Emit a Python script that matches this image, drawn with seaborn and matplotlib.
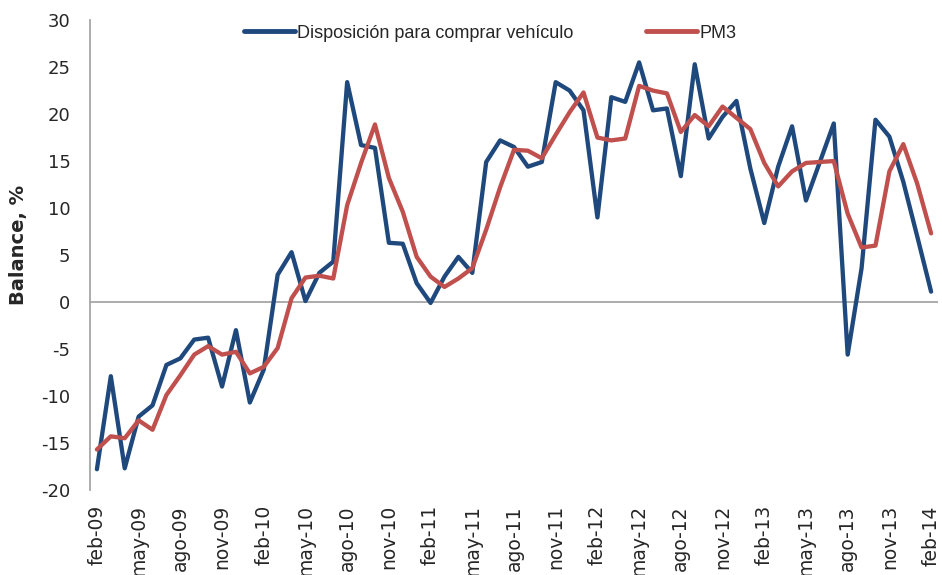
import pandas as pd
import seaborn as sns
import matplotlib.pyplot as plt

# series values (feb-09 .. feb-14, monthly)
meses = ["feb", "mar", "abr", "may", "jun", "jul", "ago", "sep", "oct", "nov", "dic", "ene"]
disposicion = [-17.8, -7.9, -17.7, -12.2, -11.0, -6.7, -6.0, -4.0, -3.8, -9.0, -3.0, -10.7,
               -7.2, 2.9, 5.3, 0.1, 3.1, 4.3, 23.4, 16.7, 16.4, 6.3, 6.2, 2.0,
               -0.1, 2.7, 4.8, 3.1, 14.9, 17.2, 16.5, 14.4, 14.9, 23.4, 22.5, 20.4,
               9.0, 21.8, 21.3, 25.5, 20.4, 20.6, 13.4, 25.3, 17.4, 19.7, 21.4, 14.2,
               8.4, 14.4, 18.7, 10.8, 14.9, 19.0, -5.6, 3.6, 19.4, 17.6, 12.8, 7.0, 1.1]
pm3 = [-15.7, -14.3, -14.5, -12.6, -13.6, -9.9, -7.8, -5.6, -4.7, -5.6, -5.3, -7.6,
       -6.9, -4.9, 0.4, 2.6, 2.8, 2.5, 10.3, 14.8, 18.9, 13.2, 9.6, 4.8,
       2.7, 1.6, 2.5, 3.6, 7.7, 12.2, 16.2, 16.1, 15.3, 17.8, 20.2, 22.3,
       17.5, 17.2, 17.4, 23.0, 22.5, 22.2, 18.1, 19.9, 18.7, 20.8, 19.6, 18.4,
       14.8, 12.3, 13.9, 14.8, 14.9, 15.0, 9.4, 5.8, 6.0, 13.9, 16.8, 12.6, 7.3]

# etiquetas mensuales
fechas = []
for i in range(len(disposicion)):
    anio = 9 + (i + 1) // 12
    fechas.append(f"{meses[i % 12]}-{anio:02d}")

serie1 = "Disposición para comprar vehículo"
serie2 = "PM3"
df = pd.DataFrame({
    "t": list(range(len(fechas))) * 2,
    "valor": disposicion + pm3,
    "serie": [serie1] * len(disposicion) + [serie2] * len(pm3),
})

sns.set_style("white")
plt.rcParams["font.family"] = ["DejaVu Sans"]

fig = plt.figure(figsize=(9.42, 5.75), dpi=100)
ax = fig.add_axes([0.0955, 0.148, 0.9003, 0.817])

sns.lineplot(data=df, x="t", y="valor", hue="serie",
             palette={serie1: "#1F497D", serie2: "#C0504D"},
             linewidth=3.1, ax=ax)

ax.axhline(0, color="#A6A6A6", linewidth=1.3, zorder=0)
ax.set_xlim(-0.5, len(fechas) - 0.5)
ax.set_ylim(-20, 30)
ax.set_yticks(range(-20, 31, 5))
ax.set_yticklabels([str(v) for v in range(-20, 31, 5)], fontsize=13)

pos = list(range(0, len(fechas), 3))
ax.set_xticks(pos)
ax.set_xticklabels([fechas[p] for p in pos], rotation=90, fontsize=13.5, va="top")
ax.tick_params(axis="both", length=0)
ax.tick_params(axis="y", pad=14)
ax.tick_params(axis="x", pad=11)

for s in ["top", "right", "bottom"]:
    ax.spines[s].set_visible(False)
ax.spines["left"].set_color("#A6A6A6")
ax.spines["left"].set_linewidth(1.3)

ax.set_xlabel("")
ax.set_ylabel("Balance, %", fontsize=14, fontweight="bold")
ax.yaxis.set_label_coords(-0.073, 0.521)

leg = ax.legend(loc="center", bbox_to_anchor=(0.472, 0.972), ncol=2, frameon=False,
                prop={"family": "Liberation Sans", "size": 13},
                handlelength=2.8, handletextpad=0.15, columnspacing=4.0)
for ln in leg.get_lines():
    ln.set_linewidth(3.5)

fig.savefig("out.png", dpi=100)
